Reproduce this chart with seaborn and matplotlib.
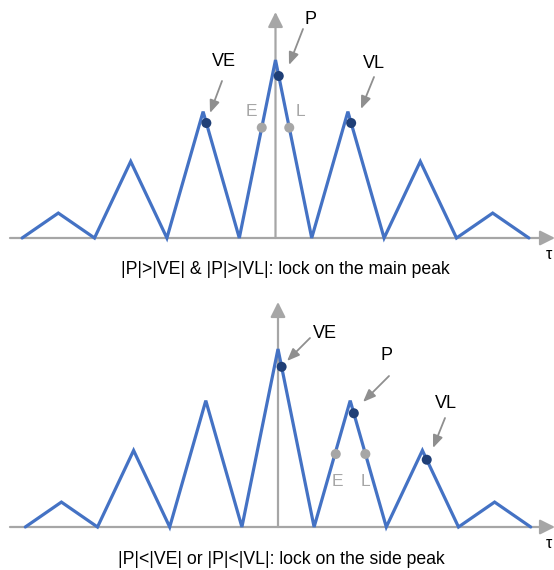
import matplotlib
matplotlib.use("Agg")
import numpy as np
import pandas as pd
import seaborn as sns
import matplotlib.pyplot as plt

# ---------------- data ----------------
x_pos = [-7, -6, -5, -4, -3, -2, -1, 0, 1, 2, 3, 4, 5, 6, 7]
signal = [0, 0.14, 0, 0.43, 0, 0.71, 0, 1.0, 0, 0.71, 0, 0.43, 0, 0.14, 0]

# top panel: locked on main peak
top_dark_labels = ["VE", "P", "VL"]
top_dark_x = [-1.91, 0.09, 2.09]
top_dark_y = [0.646, 0.91, 0.646]
top_gray_labels = ["E", "L"]
top_gray_x = [-0.38, 0.38]
top_gray_y = [0.62, 0.62]
top_caption = "|P|>|VE| & |P|>|VL|: lock on the main peak"

# bottom panel: locked on side peak
bot_dark_labels = ["VE", "P", "VL"]
bot_dark_x = [0.10, 2.10, 4.12]
bot_dark_y = [0.90, 0.639, 0.378]
bot_gray_labels = ["E", "L"]
bot_gray_x = [1.60, 2.42]
bot_gray_y = [0.41, 0.41]
bot_caption = "|P|<|VE| or |P|<|VL|: lock on the side peak"

axis_label = "τ"

# ---------------- style ----------------
BLUE = "#4472C4"
NAVY = "#1F3F77"
LGRAY = "#A6A6A6"
AGRAY = "#8F8F8F"

sns.set_theme(style="white")
plt.rcParams["font.family"] = ["Liberation Sans", "DejaVu Sans"]

W, H = 554, 570
fig = plt.figure(figsize=(W / 100, H / 100), dpi=100)


def panel(rect, top_px, bot_px, cx, ux, by, uy, dark_x, dark_y, gray_x, gray_y,
          labels_dark, labels_gray, dark_txt, dark_arrows, gray_txt, caption, cap_pos,
          yaxis_top_px, tau_pos):
    ax = fig.add_axes(rect)
    ax.set_xlim(-cx / ux, (W - cx) / ux)
    ax.set_ylim((by - bot_px) / uy, (by - top_px) / uy)
    ax.axis("off")

    # axes with arrows
    ax.annotate("", xy=((W + 1 - cx) / ux, 0), xytext=((10 - cx) / ux, 0),
                arrowprops=dict(arrowstyle="-|>,head_length=0.9,head_width=0.45",
                                color=LGRAY, lw=1.6, shrinkA=0, shrinkB=0,
                                mutation_scale=10), zorder=1,
                annotation_clip=False)
    ax.annotate("", xy=(0, (by - yaxis_top_px) / uy), xytext=(0, 0),
                arrowprops=dict(arrowstyle="-|>,head_length=0.9,head_width=0.45",
                                color=LGRAY, lw=1.6, shrinkA=0, shrinkB=0,
                                mutation_scale=10), zorder=1,
                annotation_clip=False)

    df = pd.DataFrame({"x": x_pos, "y": signal})
    sns.lineplot(data=df, x="x", y="y", ax=ax, color=BLUE, lw=2.3, sort=False,
                 zorder=3, solid_joinstyle="miter")
    sns.scatterplot(x=gray_x, y=gray_y, ax=ax, color=LGRAY, s=52,
                    edgecolor="none", zorder=5)
    sns.scatterplot(x=dark_x, y=dark_y, ax=ax, color=NAVY, s=52,
                    edgecolor="none", zorder=6)
    ax.set_xlabel("")
    ax.set_ylabel("")

    for lab, (tx, ty) in zip(labels_dark, dark_txt):
        fig.text(tx / W, 1 - ty / H, lab, ha="center", va="center",
                 fontsize=13, color="black")
    for (sx, sy, ex, ey) in dark_arrows:
        fig.add_artist(matplotlib.patches.FancyArrowPatch(
            posA=(sx / W, 1 - sy / H), posB=(ex / W, 1 - ey / H),
            transform=fig.transFigure,
            arrowstyle="-|>,head_length=0.75,head_width=0.3",
            mutation_scale=10, color=AGRAY, lw=1.3, shrinkA=0, shrinkB=0))
    for lab, (tx, ty) in zip(labels_gray, gray_txt):
        fig.text(tx / W, 1 - ty / H, lab, ha="center", va="center",
                 fontsize=12.5, color=LGRAY)
    fig.text(cap_pos[0] / W, 1 - cap_pos[1] / H, caption, ha="center",
             va="center", fontsize=12.7, color="black")
    fig.text(tau_pos[0] / W, 1 - tau_pos[1] / H, axis_label, ha="left",
             va="center", fontsize=11.5, color="black")
    return ax


panel([0, 0.5, 1, 0.5], 0, 285, cx=275.5, ux=36.2, by=238, uy=178,
      dark_x=top_dark_x, dark_y=top_dark_y, gray_x=top_gray_x, gray_y=top_gray_y,
      labels_dark=top_dark_labels, labels_gray=top_gray_labels,
      dark_txt=[(224, 62), (311, 19), (374, 64)],
      dark_arrows=[(222, 81, 210, 113), (303, 29, 289, 65), (374, 77, 361, 109)],
      gray_txt=[(251, 112), (300, 112)],
      caption=top_caption, cap_pos=(285, 270), yaxis_top_px=12,
      tau_pos=(546, 254))

panel([0, 0, 1, 0.5], 285, 570, cx=278, ux=36.1, by=527, uy=178,
      dark_x=bot_dark_x, dark_y=bot_dark_y, gray_x=bot_gray_x, gray_y=bot_gray_y,
      labels_dark=bot_dark_labels, labels_gray=bot_gray_labels,
      dark_txt=[(325, 334), (386, 356), (446, 404)],
      dark_arrows=[(310, 338, 287, 361), (389, 376, 363, 402), (445, 418, 433, 448)],
      gray_txt=[(337, 481), (365, 481)],
      caption=bot_caption, cap_pos=(281, 560), yaxis_top_px=302,
      tau_pos=(546, 543))

fig.savefig("out.png", dpi=100, facecolor="white")
